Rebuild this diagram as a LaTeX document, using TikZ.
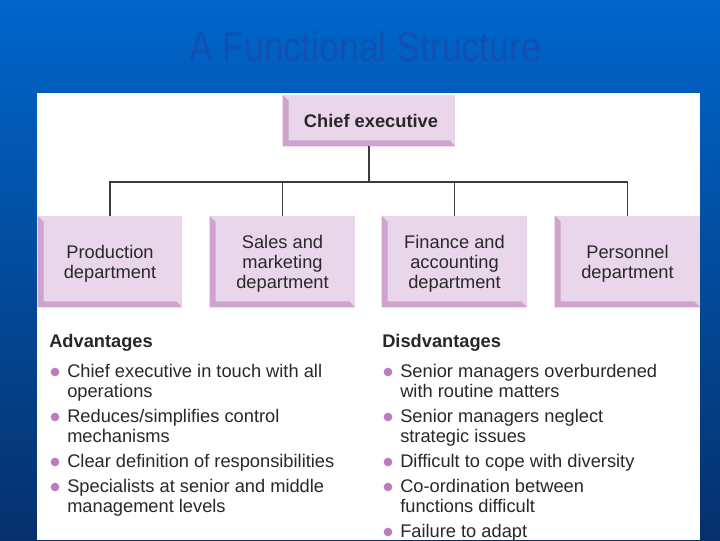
\documentclass[tikz,border=0pt]{standalone}
\usepackage{fontspec}
\setmainfont{Liberation Sans}
\definecolor{bgtop}{RGB}{0,102,204}
\definecolor{bgmid}{RGB}{0,82,172}
\definecolor{bgbot}{RGB}{6,48,108}
\definecolor{titlec}{RGB}{18,80,178}
\definecolor{boxfill}{RGB}{234,214,234}
\definecolor{boxedge}{RGB}{208,162,208}
\definecolor{bulletc}{RGB}{190,122,190}
\definecolor{txt}{RGB}{40,40,40}
\definecolor{linec}{RGB}{60,60,60}
\tikzset{
  x=0.75pt, y=-0.75pt,
  unitbox/.style={fill=boxfill, inner sep=0pt},
  boxtxt/.style={inner sep=0pt, align=center, text=txt,
    font=\fontsize{13.7}{15}\selectfont},
  bevel/.style={fill=boxedge},
  conn/.style={draw=linec, line width=1.1pt},
  itemtxt/.style={anchor=base west, inner sep=0pt, text=txt,
    font=\fontsize{13.7}{15}\selectfont},
  headtxt/.style={anchor=base west, inner sep=0pt, text=txt,
    font=\fontsize{13.7}{15}\selectfont\bfseries},
  dot/.style={circle, fill=bulletc, inner sep=0pt, minimum size=6.5pt}
}
\newcommand{\bevelbox}[1]{%
  \fill[bevel] (#1.north west) -- (#1.south west) -- (#1.south east)
    -- ([shift={(-6,-6)}]#1.south east) -- ([shift={(6,-6)}]#1.south west)
    -- ([shift={(6,6)}]#1.north west) -- cycle;}
\begin{document}
\begin{tikzpicture}
\useasboundingbox (0,0) rectangle (720,540);
\shade[top color=bgtop, middle color=bgmid, bottom color=bgbot] (0,0) rectangle (720,540);
\fill[white] (37,93) rectangle (700,540);
\node[text=titlec, font=\fontsize{31}{31}\selectfont, xscale=0.86] (title) at (365,47) {A Functional Structure};

% boxes
\node[unitbox, minimum width=172*0.75pt, minimum height=51*0.75pt] (ceo) at (369,120.5) {};
\bevelbox{ceo}
\node[boxtxt, font=\fontsize{13.7}{15}\selectfont\bfseries] (ceot) at ([shift={(2,0)}]ceo.center) {Chief executive};
\node[unitbox, minimum width=144*0.75pt, minimum height=91*0.75pt] (prod) at (110,261.5) {};
\bevelbox{prod}
\node[boxtxt] (prodt) at ([shift={(0,2.5)}]prod.center) {Production\\department};
\node[unitbox, minimum width=145*0.75pt, minimum height=91*0.75pt] (sales) at (282.5,261.5) {};
\bevelbox{sales}
\node[boxtxt] (salest) at ([shift={(0,2.5)}]sales.center) {Sales and\\marketing\\department};
\node[unitbox, minimum width=145*0.75pt, minimum height=91*0.75pt] (fin) at (454.5,261.5) {};
\bevelbox{fin}
\node[boxtxt] (fint) at ([shift={(0,2.5)}]fin.center) {Finance and\\accounting\\department};
\node[unitbox, minimum width=145*0.75pt, minimum height=91*0.75pt] (pers) at (627.5,261.5) {};
\bevelbox{pers}
\node[boxtxt] (perst) at ([shift={(0,2.5)}]pers.center) {Personnel\\department};

% connectors
\coordinate (bus) at (369,182);
\draw[conn] (ceo.south) -- (bus);
\draw[conn] (prod.north) |- (bus) -| (pers.north);
\draw[conn] (sales.north) -- (sales.north |- bus);
\draw[conn] (fin.north) -- (fin.north |- bus);

% advantages
\node[headtxt] (advh) at (49,347) {Advantages};
\node[dot] (a1d) at (55,372) {};
\node[itemtxt] (a1) at (67,377) {Chief executive in touch with all};
\node[itemtxt] (a1b) at (67,397) {operations};
\node[dot] (a2d) at (55,417) {};
\node[itemtxt] (a2) at (67,422) {Reduces/simplifies control};
\node[itemtxt] (a2b) at (67,442) {mechanisms};
\node[dot] (a3d) at (55,462) {};
\node[itemtxt] (a3) at (67,467) {Clear definition of responsibilities};
\node[dot] (a4d) at (55,487) {};
\node[itemtxt] (a4) at (67,492) {Specialists at senior and middle};
\node[itemtxt] (a4b) at (67,512) {management levels};

% disadvantages
\node[headtxt] (dish) at (382,347) {Disdvantages};
\node[dot] (d1d) at (388,372) {};
\node[itemtxt] (d1) at (400,377) {Senior managers overburdened};
\node[itemtxt] (d1b) at (400,397) {with routine matters};
\node[dot] (d2d) at (388,417) {};
\node[itemtxt] (d2) at (400,422) {Senior managers neglect};
\node[itemtxt] (d2b) at (400,442) {strategic issues};
\node[dot] (d3d) at (388,462) {};
\node[itemtxt] (d3) at (400,467) {Difficult to cope with diversity};
\node[dot] (d4d) at (388,487) {};
\node[itemtxt] (d4) at (400,492) {Co-ordination between};
\node[itemtxt] (d4b) at (400,512) {functions difficult};
\node[dot] (d5d) at (388,532) {};
\node[itemtxt] (d5) at (400,537) {Failure to adapt};
\end{tikzpicture}
\end{document}
